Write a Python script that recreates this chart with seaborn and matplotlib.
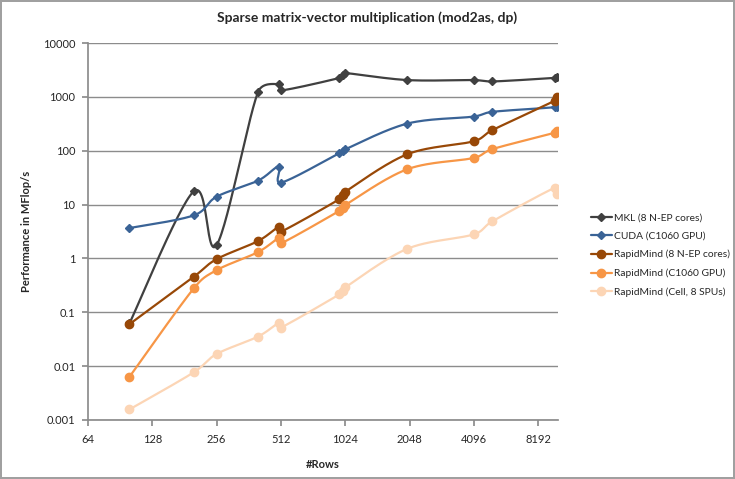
import numpy as np
import pandas as pd
import matplotlib
matplotlib.use("Agg")
import matplotlib.pyplot as plt
from matplotlib.lines import Line2D
import seaborn as sns

# Datos (filas vs MFlop/s)
filas = [100, 200, 256, 400, 500, 512, 960, 1000, 1024, 2000, 4096, 5000, 9800, 10000]

mkl = [0.062, 17.6, 1.77, 1226, 1726, 1313, 2233, 2500, 2768, 2050, 2050, 1931, 2250, 2300]
cuda = [3.66, 6.3, 14.0, 27.8, 50.6, 25.5, 89.8, 98, 106, 319, 431, 527, 640, 662]
rm_cpu = [0.060, 0.455, 0.97, 2.1, 3.87, 3.13, 12.5, 15.0, 17.3, 86, 150, 241, 850, 1000]
rm_gpu = [0.0063, 0.277, 0.606, 1.31, 2.39, 1.90, 7.6, 8.7, 9.8, 45.3, 73.5, 107, 215, 228]
rm_cell = [0.00157, 0.00767, 0.0168, 0.0354, 0.0633, 0.052, 0.214, 0.25, 0.289, 1.51, 2.80, 4.88, 20.5, 16.0]

series = ['MKL (8 N-EP cores)', 'CUDA (C1060 GPU)', 'RapidMind (8 N-EP cores)',
          'RapidMind (C1060 GPU)', 'RapidMind (Cell, 8 SPUs)']
valores = [mkl, cuda, rm_cpu, rm_gpu, rm_cell]
colores = ['#404040', '#3A6396', '#984807', '#F79646', '#FCD5B5']
marcadores = ['D', 'D', 'o', 'o', 'o']
tam_marcador = [4.5, 4.5, 6, 6, 6]

x_ticks = [64, 128, 256, 512, 1024, 2048, 4096, 8192]
y_ticks = [0.001, 0.01, 0.1, 1, 10, 100, 1000, 10000]
y_labels = ['0.001', '0.01', '0.1', '1', '10', '100', '1000', '10000']

# pixeles por octava / por decada (para suavizar como Excel)
PX_X = 64.3
PX_Y = 53.75


def suavizar(xs, ys, n=30):
    # curva suavizada tipo Excel: Bezier con tangentes limitadas
    p = np.column_stack([np.log2(xs) * PX_X, np.log10(ys) * PX_Y])
    t = np.linspace(0, 1, n)[:, None]
    trozos = []
    for i in range(len(p) - 1):
        p0 = p[max(i - 1, 0)]
        p1 = p[i]
        p2 = p[i + 1]
        p3 = p[min(i + 2, len(p) - 1)]
        largo = np.linalg.norm(p2 - p1)
        d1 = (p2 - p0) / 6
        d2 = (p3 - p1) / 6
        for d in (d1, d2):
            nd = np.linalg.norm(d)
            if nd > 0.5 * largo:
                d *= 0.5 * largo / nd
        c1 = p1 + d1
        c2 = p2 - d2
        seg = (1 - t) ** 3 * p1 + 3 * (1 - t) ** 2 * t * c1 + 3 * (1 - t) * t ** 2 * c2 + t ** 3 * p2
        trozos.append(seg)
    s = np.vstack(trozos)
    return 2 ** (s[:, 0] / PX_X), 10 ** (s[:, 1] / PX_Y)


sns.set_theme(style="white")
plt.rcParams['font.family'] = ['Lato', 'DejaVu Sans']

fig = plt.figure(figsize=(7.35, 4.79), dpi=100)
fig.patch.set_edgecolor('#A0A0A0')
fig.patch.set_linewidth(1.5)
ax = fig.add_axes([88 / 735, 1 - 420 / 479, (558 - 88) / 735, (420 - 43) / 479])

# curvas suavizadas
filas_curva = []
for nombre, v in zip(series, valores):
    sx, sy = suavizar(filas, v)
    filas_curva.append(pd.DataFrame({'Filas': sx, 'MFlop/s': sy, 'Serie': nombre}))
df_curva = pd.concat(filas_curva, ignore_index=True)

sns.lineplot(data=df_curva, x='Filas', y='MFlop/s', hue='Serie', palette=colores, sort=False,
             estimator=None, units='Serie', legend=False, linewidth=1.6, ax=ax)

handles = []
for nombre, v, c, m, ms in zip(series, valores, colores, marcadores, tam_marcador):
    ax.plot(filas, v, ls='none', marker=m, ms=ms, color=c, mec=c, zorder=3)
    handles.append(Line2D([0], [0], color=c, lw=1.6, marker=m, ms=ms, mec=c))

ax.set_xscale('log', base=2)
ax.set_yscale('log')
ax.set_xlim(64, 64 * 2 ** ((558 - 88) / PX_X))
ax.set_ylim(0.001, 10000)
ax.set_xticks(x_ticks)
ax.set_xticklabels([str(v) for v in x_ticks])
ax.set_yticks(y_ticks)
ax.set_yticklabels(y_labels)
ax.minorticks_off()

ax.yaxis.grid(True, color='#8C8C8C', linewidth=1)
ax.xaxis.grid(False)
ax.set_axisbelow(True)
for lado in ['top', 'right']:
    ax.spines[lado].set_visible(False)
ax.spines['bottom'].set_color('#8C8C8C')
ax.spines['left'].set_color('#8C8C8C')
ax.tick_params(axis='x', bottom=True, length=4, color='#8C8C8C', labelsize=8, pad=6)
ax.tick_params(axis='y', left=True, length=4, color='#8C8C8C', labelsize=8, pad=5)

ax.set_xlabel('#Rows', fontsize=8, fontweight='bold', labelpad=10)
ax.set_ylabel('Performance in MFlop/s', fontsize=8, fontweight='bold', labelpad=8)
fig.text(0.5, 1 - 18 / 479, 'Sparse matrix-vector multiplication (mod2as, dp)',
         ha='center', va='center', fontsize=10, fontweight='bold')

fig.legend(handles, series, loc='center left', bbox_to_anchor=(586 / 735, 1 - 255 / 479),
           frameon=False, fontsize=7.4, handlelength=2.0, handletextpad=0.25, labelspacing=0.9,
           borderpad=0)

plt.savefig('out.png', dpi=100)
